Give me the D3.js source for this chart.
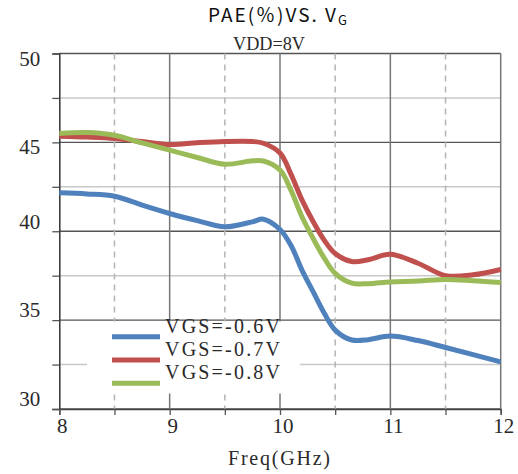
<!DOCTYPE html>
<html>
<head>
<meta charset="utf-8">
<script src="https://d3js.org/d3.v7.min.js"></script>
<style>
    body { margin: 0; background: #fff; }
    svg { display: block; }
    .serif { font-family: "Liberation Serif", "DejaVu Serif", serif; fill: #2a2a2a; }
</style>
</head>
<body>
<svg id="chart"></svg>
<script>
// Freq (GHz) and PAE (%)
const freqs  = [8, 8.25, 8.5, 8.75, 9, 9.25, 9.5, 9.75, 9.85, 10, 10.1, 10.2, 10.3, 10.4, 10.5, 10.65, 10.8, 11, 11.25, 11.5, 11.75, 12];
const paeVgs06 = [42.16, 42.1, 41.97, 41.47, 41.0, 40.6, 40.25, 40.53, 40.68, 40.1, 39.2, 37.8, 36.6, 35.4, 34.44, 33.88, 33.9, 34.1, 33.85, 33.46, 33.06, 32.65];
const paeVgs07 = [45.35, 45.3, 45.22, 45.05, 44.88, 44.98, 45.05, 45.05, 44.95, 44.4, 43.2, 41.75, 40.55, 39.5, 38.75, 38.3, 38.4, 38.7, 38.2, 37.5, 37.55, 37.85];
const paeVgs08 = [45.5, 45.55, 45.4, 44.97, 44.56, 44.15, 43.77, 43.96, 43.95, 43.44, 42.3, 40.8, 39.6, 38.5, 37.63, 37.08, 37.05, 37.15, 37.2, 37.29, 37.22, 37.12];
const seriesNames = ['VGS=-0.6V', 'VGS=-0.7V', 'VGS=-0.8V'];
const seriesColors = ['#4f81bd', '#c0504d', '#9bbb59'];
const xTicks = [8, 8.5, 9, 9.5, 10, 10.5, 11, 11.5, 12];
const yTicks = [30, 32.5, 35, 37.5, 40, 42.5, 45, 47.5, 50];

class PaeChart {
    constructor() {
        this.width = 518;
        this.height = 474;
        this.plot = {left: 59.3, right: 500.7, top: 53.5, bottom: 409};

        this.svg = d3.select('#chart')
            .attr('width', this.width)
            .attr('height', this.height);

        this.x = d3.scaleLinear().domain([8, 12]).range([this.plot.left, this.plot.right]);
        this.y = d3.scaleLinear().domain([30, 50]).range([this.plot.bottom, this.plot.top]);

        this.drawGrid();
        this.drawLegendBox();
        this.drawAxes();
        this.drawLines();
        this.drawLegend();
        this.drawTitles();
    }

    drawGrid() {
        const g = this.svg.append('g');
        // horizontal lines, major every 5, minor in between
        g.selectAll('.hgrid')
            .data(yTicks)
            .join('line')
            .attr('x1', this.plot.left).attr('x2', this.plot.right)
            .attr('y1', d => this.y(d)).attr('y2', d => this.y(d))
            .attr('stroke', d => d % 5 === 0 ? '#555' : '#c8c8c8')
            .attr('stroke-width', d => d % 5 === 0 ? 1.3 : 1.5);

        // vertical lines, solid on the integers, dashed on the halves
        g.selectAll('.vgrid')
            .data(xTicks.filter(d => d > 8))
            .join('line')
            .attr('x1', d => this.x(d)).attr('x2', d => this.x(d))
            .attr('y1', this.plot.top).attr('y2', this.plot.bottom)
            .attr('stroke', d => d % 1 === 0 ? '#777' : '#b4b4b4')
            .attr('stroke-width', 1.5)
            .attr('stroke-dasharray', d => d % 1 === 0 ? null : '6,5');
    }

    drawLegendBox() {
        // legend sits on a white box that hides the grid under it
        this.svg.append('rect')
            .attr('x', 87).attr('y', 321.5)
            .attr('width', 213).attr('height', 72)
            .attr('fill', '#fff');
    }

    drawAxes() {
        const yAxis = this.svg.append('g')
            .attr('transform', `translate(${this.plot.left}, 0)`)
            .call(d3.axisLeft(this.y)
                .tickValues(yTicks)
                .tickSize(7)
                .tickPadding(12)
                .tickFormat(d => d % 5 === 0 ? d : ''));
        yAxis.select('.domain').attr('stroke', '#333').attr('stroke-width', 1.5);
        yAxis.selectAll('.tick line').attr('stroke', '#555').attr('stroke-width', 1.3);
        yAxis.selectAll('.tick text')
            .attr('class', 'serif')
            .attr('font-size', 21)
            .attr('dy', d => d >= 45 ? '0.55em' : '-0.15em');

        const xAxis = this.svg.append('g')
            .attr('transform', `translate(0, ${this.plot.bottom})`)
            .call(d3.axisBottom(this.x)
                .tickValues(xTicks)
                .tickSize(6)
                .tickPadding(3)
                .tickFormat(d => d % 1 === 0 ? d : ''));
        xAxis.select('.domain').attr('stroke', '#444').attr('stroke-width', 1.5);
        xAxis.selectAll('.tick line').attr('stroke', '#555').attr('stroke-width', 1.3);
        xAxis.selectAll('.tick text')
            .attr('class', 'serif')
            .attr('font-size', 21)
            .attr('dx', 2.5);
    }

    drawLines() {
        const series = [paeVgs06, paeVgs07, paeVgs08];
        const line = d3.line()
            .x((d, i) => this.x(freqs[i]))
            .y(d => this.y(d))
            .curve(d3.curveCatmullRom.alpha(0.5));

        this.svg.append('g')
            .selectAll('path')
            .data(series)
            .join('path')
            .attr('d', d => line(d))
            .attr('fill', 'none')
            .attr('stroke', (d, i) => seriesColors[i])
            .attr('stroke-width', 5)
            .attr('stroke-linejoin', 'round');
    }

    drawLegend() {
        const g = this.svg.append('g');
        const rows = g.selectAll('g')
            .data(seriesNames)
            .join('g')
            .attr('transform', (d, i) => `translate(0, ${i * 23.3})`);

        rows.append('line')
            .attr('x1', 112).attr('x2', 160)
            .attr('y1', 336.7).attr('y2', 336.7)
            .attr('stroke', (d, i) => seriesColors[i])
            .attr('stroke-width', 5);

        rows.append('text')
            .attr('class', 'serif')
            .attr('x', 165).attr('y', 332.7)
            .attr('font-size', 20)
            .attr('textLength', 115)
            .attr('lengthAdjust', 'spacing')
            .text(d => d);
    }

    drawTitles() {
        const title = this.svg.append('text')
            .attr('x', 208).attr('y', 22)
            .attr('font-family', '"Noto Sans CJK SC", "Noto Sans", sans-serif')
            .attr('font-size', 19)
            .attr('fill', '#111');
        title.append('tspan')
            .attr('textLength', 128)
            .attr('lengthAdjust', 'spacing')
            .text('PAE(％)VS. V');
        title.append('tspan').attr('font-size', 13).attr('dy', 3).text('G');

        this.svg.append('text')
            .attr('class', 'serif')
            .attr('x', 233).attr('y', 50)
            .attr('font-size', 19)
            .attr('textLength', 72)
            .attr('lengthAdjust', 'spacingAndGlyphs')
            .text('VDD=8V');

        this.svg.append('text')
            .attr('class', 'serif')
            .attr('x', 228).attr('y', 465)
            .attr('font-size', 20)
            .attr('textLength', 102)
            .attr('lengthAdjust', 'spacing')
            .text('Freq(GHz)');
    }
}

new PaeChart();
</script>
</body>
</html>
